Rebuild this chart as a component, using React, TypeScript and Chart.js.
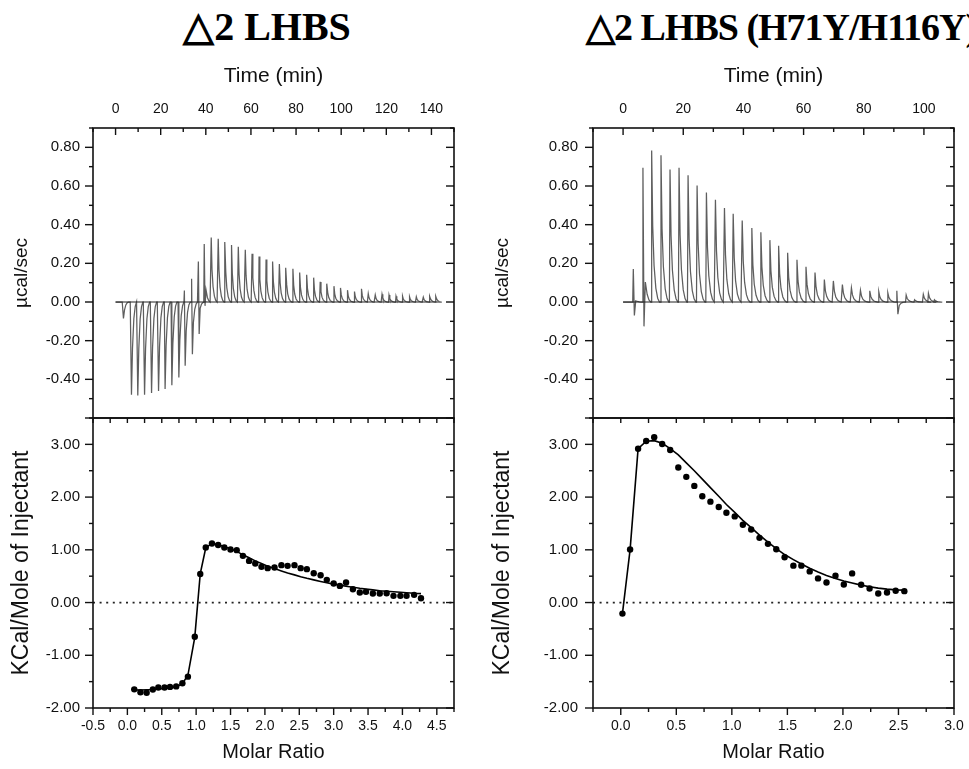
import React, { useEffect, useRef } from 'react';
import { Chart, registerables } from 'chart.js';

Chart.register(...registerables);

const SANS = "'Liberation Sans', Arial, sans-serif";
const SERIF = "'Liberation Serif', 'Times New Roman', serif";

// ---------------- Data ----------------
// Raw thermogram, left (Δ2 LHBS): injection times (min), upward and downward peak heights (µcal/sec)
const leftInjTimes = [2.95, 6.5, 9.3, 12.3, 15.4, 18.5, 21.4, 24.4, 27.5, 30.3, 33.5, 36.5, 39.1, 42.2, 45.3, 48.3, 51.2, 54.2, 57.3, 60.3, 63.4, 66.5, 69.4, 72.4, 75.3, 78.4, 81.4, 84.5, 87.6, 90.5, 93.5, 96.6, 99.5, 102.6, 105.7, 108.8, 111.8, 114.9, 117.9, 121, 124.1, 127, 130.1, 133.1, 136.2, 139.1, 141.8];
const leftInjUp = [0, 0, 0, 0, 0, 0, 0, 0, 0, 0.06, 0.12, 0.21, 0.3, 0.333, 0.327, 0.31, 0.295, 0.286, 0.27, 0.25, 0.235, 0.22, 0.21, 0.197, 0.177, 0.172, 0.153, 0.141, 0.126, 0.104, 0.095, 0.082, 0.073, 0.061, 0.054, 0.068, 0.044, 0.037, 0.04, 0.036, 0.03, 0.03, 0.027, 0.027, 0.025, 0.03, 0.03];
const leftInjDown = [-0.085, -0.48, -0.483, -0.48, -0.47, -0.46, -0.45, -0.43, -0.39, -0.33, -0.27, -0.165, -0.02, 0, 0, 0, 0, 0, 0, 0, 0, 0, 0, 0, 0, 0, 0, 0, 0, 0, 0, 0, 0, 0, 0, 0, 0, 0, 0, 0, 0, 0, 0, 0, 0, 0, 0];
const leftTraceSpan = [0, 143];

// Raw thermogram, right (Δ2 LHBS H71Y/H116Y)
const rightInjTimes = [3.2, 6.4, 9.3, 12.4, 15.4, 18.4, 21.4, 24.4, 27.5, 30.5, 33.5, 36.4, 39.4, 42.6, 45.6, 48.6, 51.5, 54.5, 57.6, 60.6, 63.6, 66.7, 69.7, 72.7, 75.7, 78.7, 81.8, 84.8, 87.8, 90.8, 93.9, 96.7, 99.6, 101.3, 103.3];
const rightInjUp = [0.17, 0.694, 0.784, 0.759, 0.685, 0.694, 0.655, 0.602, 0.566, 0.529, 0.486, 0.456, 0.422, 0.383, 0.361, 0.32, 0.291, 0.255, 0.218, 0.182, 0.153, 0.116, 0.109, 0.09, 0.073, 0.061, 0.058, 0.053, 0.048, 0.058, 0.036, 0.012, 0.04, 0.045, 0.012];
const rightInjDown = [-0.07, -0.126, 0, 0, 0, 0, 0, 0, 0, 0, 0, 0, 0, 0, 0, 0, 0, 0, 0, 0, 0, 0, 0, 0, 0, 0, 0, 0, 0, -0.063, 0, 0, 0, 0, 0];
const rightTraceSpan = [0, 104.6];

// Integrated heats, left
const leftMolar = [0.10, 0.19, 0.28, 0.37, 0.45, 0.54, 0.62, 0.71, 0.80, 0.88, 0.98, 1.06, 1.14, 1.23, 1.32, 1.41, 1.50, 1.59, 1.68, 1.77, 1.86, 1.95, 2.04, 2.14, 2.24, 2.33, 2.43, 2.52, 2.61, 2.71, 2.81, 2.90, 3.00, 3.09, 3.18, 3.28, 3.38, 3.47, 3.57, 3.67, 3.77, 3.87, 3.97, 4.06, 4.17, 4.27];
const leftHeat = [-1.646, -1.70, -1.71, -1.65, -1.61, -1.61, -1.60, -1.59, -1.53, -1.405, -0.65, 0.54, 1.044, 1.12, 1.09, 1.044, 1.006, 0.994, 0.886, 0.79, 0.74, 0.677, 0.652, 0.665, 0.709, 0.696, 0.709, 0.652, 0.633, 0.557, 0.519, 0.43, 0.36, 0.316, 0.38, 0.253, 0.19, 0.203, 0.171, 0.171, 0.177, 0.127, 0.127, 0.127, 0.146, 0.082];
const leftFit = [-1.66, -1.66, -1.655, -1.65, -1.64, -1.63, -1.62, -1.60, -1.54, -1.38, -0.66, 0.55, 1.04, 1.12, 1.10, 1.06, 1.02, 0.97, 0.905, 0.85, 0.79, 0.74, 0.69, 0.645, 0.60, 0.56, 0.525, 0.49, 0.46, 0.43, 0.40, 0.375, 0.35, 0.33, 0.31, 0.29, 0.27, 0.255, 0.24, 0.225, 0.215, 0.205, 0.195, 0.185, 0.175, 0.17];

// Integrated heats, right
const rightMolar = [0.015, 0.084, 0.156, 0.229, 0.301, 0.373, 0.445, 0.518, 0.59, 0.662, 0.734, 0.807, 0.882, 0.951, 1.026, 1.099, 1.174, 1.249, 1.325, 1.4, 1.475, 1.554, 1.626, 1.701, 1.776, 1.852, 1.933, 2.008, 2.083, 2.164, 2.24, 2.318, 2.397, 2.475, 2.553];
const rightHeat = [-0.21, 1.005, 2.918, 3.064, 3.134, 3.007, 2.893, 2.562, 2.384, 2.212, 2.015, 1.914, 1.812, 1.704, 1.634, 1.475, 1.386, 1.227, 1.113, 1.011, 0.858, 0.70, 0.70, 0.591, 0.458, 0.381, 0.509, 0.343, 0.553, 0.337, 0.267, 0.172, 0.191, 0.223, 0.216];
const rightFit = [-0.21, 1.005, 2.918, 3.06, 3.07, 3.02, 2.92, 2.80, 2.65, 2.50, 2.34, 2.18, 2.015, 1.86, 1.71, 1.56, 1.42, 1.28, 1.144, 1.024, 0.91, 0.814, 0.73, 0.65, 0.58, 0.515, 0.458, 0.407, 0.369, 0.33, 0.30, 0.273, 0.254, 0.24, 0.235];

// Tick labels
const rawYTicks = [-0.4, -0.2, 0, 0.2, 0.4, 0.6, 0.8];
const heatYTicks = [-2, -1, 0, 1, 2, 3];
const leftTimeTicks = [0, 20, 40, 60, 80, 100, 120, 140];
const rightTimeTicks = [0, 20, 40, 60, 80, 100];
const leftMolarTicks = [-0.5, 0, 0.5, 1, 1.5, 2, 2.5, 3, 3.5, 4, 4.5];
const rightMolarTicks = [0, 0.5, 1, 1.5, 2, 2.5, 3];

// Shape of one injection peak on the thermogram (minutes after injection, fraction of peak)
const PULSE_OFFSETS = [0, 0.2, 0.55, 1.0, 1.6, 2.2, 2.8];
const PULSE_UP = [0, 1, 0.5, 0.24, 0.09, 0.025, 0];
const PULSE_DOWN = [0, 0, 1, 0.5, 0.18, 0.05, 0];

function buildTrace(times: number[], ups: number[], downs: number[], span: number[]) {
  const pts: { x: number; y: number }[] = [{ x: span[0], y: 0 }];
  times.forEach((t, i) => {
    PULSE_OFFSETS.forEach((o, k) => {
      let y = ups[i] * PULSE_UP[k] + downs[i] * PULSE_DOWN[k];
      if (k === 2 && downs[i] !== 0) y = downs[i];
      pts.push({ x: t + o, y });
    });
  });
  pts.push({ x: span[1], y: 0 });
  return pts;
}

const zip = (xs: number[], ys: number[]) => xs.map((x, i) => ({ x, y: ys[i] }));

type SideSpec = {
  side: 'top' | 'bottom' | 'left' | 'right';
  scale: string;
  from: number;
  to: number;
  step: number;
  minor: number;
  dir: 'in' | 'out';
  maj: number;
  min: number;
};

function makeFrame(sides: SideSpec[]) {
  return {
    id: 'frameTicks',
    afterDraw(chart: any) {
      const { ctx, chartArea: a } = chart;
      ctx.save();
      ctx.strokeStyle = '#111';
      ctx.lineWidth = 1.6;
      ctx.strokeRect(a.left, a.top, a.right - a.left, a.bottom - a.top);
      ctx.lineWidth = 1.4;
      for (const s of sides) {
        const sc = chart.scales[s.scale];
        const n = Math.round((s.to - s.from) / s.minor);
        for (let i = 0; i <= n; i++) {
          const v = s.from + i * s.minor;
          const r = v / s.step;
          const isMaj = Math.abs(r - Math.round(r)) < 1e-6;
          const len = isMaj ? s.maj : s.min;
          const p = sc.getPixelForValue(v);
          const sign = s.dir === 'in' ? 1 : -1;
          ctx.beginPath();
          if (s.side === 'top') { ctx.moveTo(p, a.top); ctx.lineTo(p, a.top + sign * len); }
          else if (s.side === 'bottom') { ctx.moveTo(p, a.bottom); ctx.lineTo(p, a.bottom - sign * len); }
          else if (s.side === 'left') { ctx.moveTo(a.left, p); ctx.lineTo(a.left + sign * len, p); }
          else { ctx.moveTo(a.right, p); ctx.lineTo(a.right - sign * len, p); }
          ctx.stroke();
        }
      }
      ctx.restore();
    },
  };
}

type Panel = {
  pad: { left: number; right: number; top: number; bottom: number };
  xPos: 'top' | 'bottom';
  xMin: number; xMax: number; xTicks: number[]; xDec: number; xTitle: string; xTitleSize: number;
  xHeight: number; xLabelPad: number; xTitlePad: { top: number; bottom: number };
  yMin: number; yMax: number; yTicks: number[]; yTitle: string; yTitleSize: number;
  yWidth: number; yLabelPad: number; yTitlePad: number;
  datasets: any[];
  sides: SideSpec[];
};

function panelConfig(p: Panel): any {
  return {
    type: 'line',
    data: { datasets: p.datasets },
    options: {
      responsive: false,
      animation: false,
      devicePixelRatio: 1,
      events: [],
      layout: { padding: p.pad },
      plugins: { legend: { display: false }, title: { display: false }, tooltip: { enabled: false } },
      scales: {
        x: {
          type: 'linear',
          position: p.xPos,
          min: p.xMin,
          max: p.xMax,
          grid: { display: false, drawTicks: false },
          border: { display: false },
          afterBuildTicks: (s: any) => { s.ticks = p.xTicks.map((v) => ({ value: v })); },
          afterFit: (s: any) => { s.height = p.xHeight; s.paddingLeft = 0; s.paddingRight = 0; },
          ticks: {
            autoSkip: false, maxRotation: 0, minRotation: 0, padding: p.xLabelPad,
            font: { family: SANS, size: 14 }, color: '#111',
            callback: (v: any) => Number(v).toFixed(p.xDec),
          },
          title: { display: true, text: p.xTitle, font: { family: SANS, size: p.xTitleSize }, color: '#111', padding: p.xTitlePad },
        },
        y: {
          type: 'linear',
          position: 'left',
          min: p.yMin,
          max: p.yMax,
          grid: { display: false, drawTicks: false },
          border: { display: false },
          afterBuildTicks: (s: any) => { s.ticks = p.yTicks.map((v) => ({ value: v })); },
          afterFit: (s: any) => { s.width = p.yWidth; s.paddingTop = 0; s.paddingBottom = 0; },
          ticks: {
            autoSkip: false, padding: p.yLabelPad,
            font: { family: SANS, size: 15 }, color: '#111',
            callback: (v: any) => Number(v).toFixed(2),
          },
          title: { display: true, text: p.yTitle, font: { family: SANS, size: p.yTitleSize }, color: '#111', padding: { top: p.yTitlePad, bottom: 0 } },
        },
      },
    },
    plugins: [makeFrame(p.sides)],
  };
}

function traceSets(times: number[], ups: number[], downs: number[], span: number[]) {
  return [
    { data: [{ x: span[0], y: 0 }, { x: span[1], y: 0 }], borderColor: '#222', borderWidth: 1, pointRadius: 0 },
    { data: buildTrace(times, ups, downs, span), borderColor: '#5e5e5e', borderWidth: 1.25, pointRadius: 0, tension: 0 },
  ];
}

function heatSets(xs: number[], heat: number[], fit: number[], xMin: number, xMax: number) {
  return [
    { data: zip(xs, heat), showLine: false, pointRadius: 3.2, pointBackgroundColor: '#000', pointBorderWidth: 0, borderColor: '#000' },
    { data: zip(xs, fit), borderColor: '#000', borderWidth: 1.6, pointRadius: 0, tension: 0 },
    { data: [{ x: xMin, y: 0 }, { x: xMax, y: 0 }], borderColor: '#222', borderWidth: 1.8, borderDash: [2, 4.6], pointRadius: 0 },
  ];
}

const rawSides = (tMax: number): SideSpec[] => [
  { side: 'top', scale: 'x', from: -10, to: tMax, step: 20, minor: 10, dir: 'in', maj: 7, min: 4 },
  { side: 'left', scale: 'y', from: -0.6, to: 0.9, step: 0.2, minor: 0.1, dir: 'out', maj: 8, min: 4 },
  { side: 'right', scale: 'y', from: -0.6, to: 0.9, step: 0.2, minor: 0.1, dir: 'in', maj: 8, min: 4 },
];
const heatSides = (mMin: number, mMax: number): SideSpec[] => [
  { side: 'top', scale: 'x', from: mMin, to: mMax, step: 0.5, minor: 0.25, dir: 'in', maj: 5, min: 5 },
  { side: 'bottom', scale: 'x', from: mMin, to: mMax, step: 0.5, minor: 0.25, dir: 'out', maj: 7, min: 4 },
  { side: 'left', scale: 'y', from: -2, to: 3.5, step: 1, minor: 0.5, dir: 'out', maj: 8, min: 4 },
  { side: 'right', scale: 'y', from: -2, to: 3.5, step: 1, minor: 0.5, dir: 'in', maj: 8, min: 4 },
];

function configs() {
  const topLeft = panelConfig({
    pad: { left: 0, right: 515, top: 50, bottom: 351 },
    xPos: 'top', xMin: -10, xMax: 150, xTicks: leftTimeTicks, xDec: 0, xTitle: 'Time (min)', xTitleSize: 21,
    xHeight: 78, xLabelPad: 10, xTitlePad: { top: 14, bottom: 0 },
    yMin: -0.6, yMax: 0.9, yTicks: rawYTicks, yTitle: 'µcal/sec', yTitleSize: 19, yWidth: 93, yLabelPad: 13, yTitlePad: 10.6,
    datasets: traceSets(leftInjTimes, leftInjUp, leftInjDown, leftTraceSpan),
    sides: rawSides(150),
  });
  const bottomLeft = panelConfig({
    pad: { left: 0, right: 515, top: 418, bottom: 0 },
    xPos: 'bottom', xMin: -0.5, xMax: 4.75, xTicks: leftMolarTicks, xDec: 1, xTitle: 'Molar Ratio', xTitleSize: 20,
    xHeight: 61, xLabelPad: 10, xTitlePad: { top: 0, bottom: 5 },
    yMin: -2, yMax: 3.5, yTicks: heatYTicks, yTitle: 'KCal/Mole of Injectant', yTitleSize: 23, yWidth: 93, yLabelPad: 13, yTitlePad: 8,
    datasets: heatSets(leftMolar, leftHeat, leftFit, -0.5, 4.75),
    sides: heatSides(-0.5, 4.75),
  });
  const topRight = panelConfig({
    pad: { left: 480, right: 15, top: 50, bottom: 351 },
    xPos: 'top', xMin: -10, xMax: 110, xTicks: rightTimeTicks, xDec: 0, xTitle: 'Time (min)', xTitleSize: 21,
    xHeight: 78, xLabelPad: 10, xTitlePad: { top: 14, bottom: 0 },
    yMin: -0.6, yMax: 0.9, yTicks: rawYTicks, yTitle: 'µcal/sec', yTitleSize: 19, yWidth: 113, yLabelPad: 15, yTitlePad: 11.6,
    datasets: traceSets(rightInjTimes, rightInjUp, rightInjDown, rightTraceSpan),
    sides: rawSides(110),
  });
  const bottomRight = panelConfig({
    pad: { left: 480, right: 15, top: 418, bottom: 0 },
    xPos: 'bottom', xMin: -0.25, xMax: 3.0, xTicks: rightMolarTicks, xDec: 1, xTitle: 'Molar Ratio', xTitleSize: 20,
    xHeight: 61, xLabelPad: 10, xTitlePad: { top: 0, bottom: 5 },
    yMin: -2, yMax: 3.5, yTicks: heatYTicks, yTitle: 'KCal/Mole of Injectant', yTitleSize: 23, yWidth: 113, yLabelPad: 15, yTitlePad: 9.2,
    datasets: heatSets(rightMolar, rightHeat, rightFit, -0.25, 3.0),
    sides: heatSides(-0.25, 3.0),
  });
  return [topLeft, bottomLeft, topRight, bottomRight];
}

export default function App() {
  const r0 = useRef<HTMLCanvasElement>(null);
  const r1 = useRef<HTMLCanvasElement>(null);
  const r2 = useRef<HTMLCanvasElement>(null);
  const r3 = useRef<HTMLCanvasElement>(null);
  const refs = [r0, r1, r2, r3];

  useEffect(() => {
    const cfgs = configs();
    const charts = refs.map((r, i) => new Chart(r.current as HTMLCanvasElement, cfgs[i]));
    return () => charts.forEach((c) => c.destroy());
  }, []);

  const titleStyle: React.CSSProperties = {
    position: 'absolute',
    color: '#000',
    whiteSpace: 'nowrap',
  };

  return (
    <div style={{ position: 'fixed', left: 0, top: 0, width: 969, height: 769, background: '#fff', overflow: 'hidden' }}>
      <div style={{ ...titleStyle, top: 6.5, left: 0, width: 534, textAlign: 'center', font: `bold 40px ${SERIF}`, lineHeight: '40px' }}>△2 LHBS</div>
      <div style={{ ...titleStyle, top: 8, left: 586, font: `bold 38px ${SERIF}`, lineHeight: '38px', letterSpacing: '-1px' }}>△2 LHBS (H71Y/H116Y)</div>
      {refs.map((r, i) => (
        <canvas key={i} ref={r} width={969} height={769} style={{ position: 'absolute', left: 0, top: 0 }} />
      ))}
    </div>
  );
}
